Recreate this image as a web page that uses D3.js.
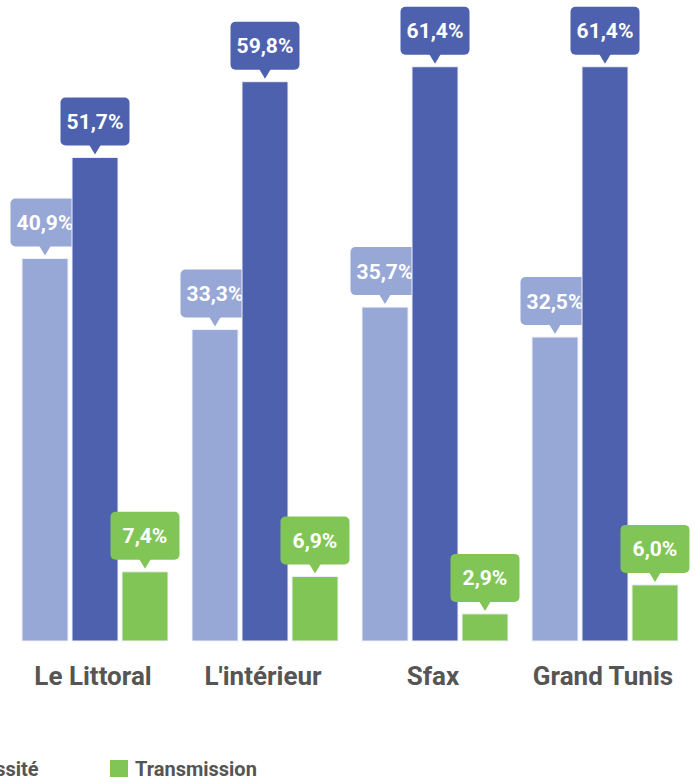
<!DOCTYPE html>
<html>
<head>
<meta charset="utf-8">
<script src="https://cdnjs.cloudflare.com/ajax/libs/d3/7.8.5/d3.min.js"></script>
<style>
  body { margin: 0; background: #fff; }
  text { font-family: Roboto, "Noto Sans", sans-serif; font-weight: bold; }
</style>
</head>
<body>
<div id="chart"></div>
<script>
// data
var regions = ["Le Littoral", "L'intérieur", "Sfax", "Grand Tunis"];
var series = ["Opportunité", "Nécessité", "Transmission"];
var opportunite = [40.9, 33.3, 35.7, 32.5];
var necessite = [51.7, 59.8, 61.4, 61.4];
var transmission = [7.4, 6.9, 2.9, 6.0];
var colors = ["#97a7d6", "#4e61ae", "#82c557"];

var width = 700, height = 783;
var values = [opportunite, necessite, transmission];

var svg = d3.select("#chart").append("svg")
  .attr("width", width)
  .attr("height", height);

var x0 = d3.scaleBand().domain(regions).range([22, 678]).paddingInner(24 / 170).paddingOuter(0);
var x1 = d3.scaleBand().domain(series).range([0, x0.bandwidth()]).paddingInner(4 / 50).paddingOuter(0);
var y = d3.scaleLinear().domain([0, 68]).range([641, 5]);

var fmt = function(v) { return v.toFixed(1).replace(".", ",") + "%"; };

var groups = svg.selectAll(".grp")
  .data(regions)
  .enter().append("g")
  .attr("class", "grp")
  .attr("transform", function(d) { return "translate(" + x0(d) + ",0)"; });

groups.each(function(region, gi) {
  var g = d3.select(this);
  series.forEach(function(s, si) {
    var v = values[si][gi];
    var bx = x1(s), bw = x1.bandwidth();
    g.append("rect")
      .attr("x", bx)
      .attr("y", y(v))
      .attr("width", bw)
      .attr("height", y(0) - y(v))
      .attr("fill", colors[si])
      .attr("stroke", "#eef1f8")
      .attr("stroke-width", 1);

    // callout label
    var cx = bx + bw / 2;
    var boxW = 69, boxH = 48;
    var bottom = y(v) - 12;
    var top = bottom - boxH;
    g.append("rect")
      .attr("x", cx - boxW / 2)
      .attr("y", top)
      .attr("width", boxW)
      .attr("height", boxH)
      .attr("rx", 5)
      .attr("fill", colors[si]);
    g.append("path")
      .attr("d", "M" + (cx - 6) + "," + (bottom - 1) + "L" + (cx + 6) + "," + (bottom - 1) + "L" + cx + "," + (y(v) - 3) + "Z")
      .attr("fill", colors[si]);
    g.append("text")
      .attr("x", cx)
      .attr("y", top + boxH / 2 + 7.5)
      .attr("text-anchor", "middle")
      .attr("fill", "#fff")
      .style("font-size", "21px")
      .text(fmt(v));
  });
});

// category labels
svg.selectAll(".cat")
  .data(regions)
  .enter().append("text")
  .attr("class", "cat")
  .attr("x", function(d) { return x0(d) + x0.bandwidth() / 2 - 2; })
  .attr("y", 685)
  .attr("text-anchor", "middle")
  .attr("fill", "#555")
  .style("font-size", "26px")
  .text(function(d) { return d; });

// legend (partly off the left edge)
var legend = svg.selectAll(".leg")
  .data(series)
  .enter().append("g")
  .attr("class", "leg")
  .attr("transform", function(d, i) { return "translate(" + (110 - (2 - i) * 186) + ",760)"; });
legend.append("rect")
  .attr("width", 18).attr("height", 17)
  .attr("fill", function(d, i) { return colors[i]; });
legend.append("text")
  .attr("x", 25).attr("y", 16)
  .attr("fill", "#555")
  .style("font-size", "20px")
  .text(function(d) { return d; });
</script>
</body>
</html>
